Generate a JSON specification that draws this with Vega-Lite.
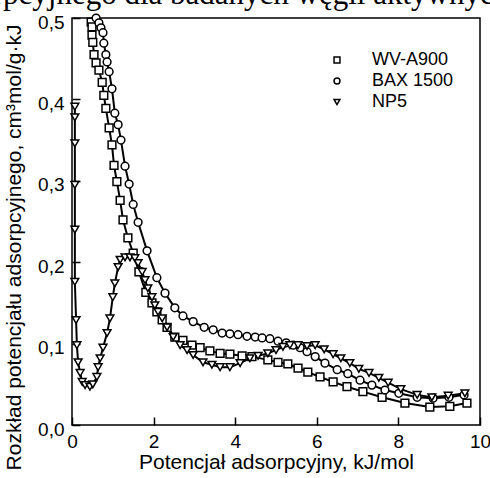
{
  "$schema": "https://vega.github.io/schema/vega-lite/v6.json",
  "width": 408,
  "height": 407,
  "autosize": {"type": "none"},
  "padding": {"left": 72, "top": 18, "right": 10, "bottom": 53},
  "background": "white",
  "title": {
    "text": "Rozkład potencjału adsorpcyjnego dla badanych węgli aktywnych",
    "anchor": "start",
    "frame": "group",
    "font": "Liberation Serif",
    "fontSize": 31,
    "fontWeight": "normal",
    "color": "black",
    "baseline": "alphabetic",
    "offset": 7,
    "dy": 31,
    "dx": -384
  },
  "config": {
    "view": {"stroke": "black", "strokeWidth": 1.5},
    "axis": {
      "labelFont": "Liberation Sans",
      "titleFont": "Liberation Sans",
      "labelColor": "black",
      "titleColor": "black",
      "labelFontSize": 19,
      "titleFontSize": 21,
      "titleFontWeight": "normal",
      "grid": false,
      "domain": false,
      "tickColor": "black",
      "tickWidth": 1.5
    }
  },
  "data": {
    "values": [
      {"s":"WV-A900","x":0.47,"y":0.495},{"s":"WV-A900","x":0.49,"y":0.489},{"s":"WV-A900","x":0.49,"y":0.479},{"s":"WV-A900","x":0.51,"y":0.470},{"s":"WV-A900","x":0.54,"y":0.455},{"s":"WV-A900","x":0.59,"y":0.445},{"s":"WV-A900","x":0.66,"y":0.436},{"s":"WV-A900","x":0.74,"y":0.421},{"s":"WV-A900","x":0.78,"y":0.405},{"s":"WV-A900","x":0.83,"y":0.389},{"s":"WV-A900","x":0.91,"y":0.365},{"s":"WV-A900","x":0.98,"y":0.344},{"s":"WV-A900","x":1.03,"y":0.319},{"s":"WV-A900","x":1.10,"y":0.299},{"s":"WV-A900","x":1.18,"y":0.276},{"s":"WV-A900","x":1.25,"y":0.252},{"s":"WV-A900","x":1.37,"y":0.230},{"s":"WV-A900","x":1.50,"y":0.211},{"s":"WV-A900","x":1.64,"y":0.188},{"s":"WV-A900","x":1.81,"y":0.163},{"s":"WV-A900","x":1.96,"y":0.150},{"s":"WV-A900","x":2.08,"y":0.139},{"s":"WV-A900","x":2.21,"y":0.129},{"s":"WV-A900","x":2.33,"y":0.120},{"s":"WV-A900","x":2.52,"y":0.108},{"s":"WV-A900","x":2.72,"y":0.104},{"s":"WV-A900","x":2.94,"y":0.098},{"s":"WV-A900","x":3.14,"y":0.095},{"s":"WV-A900","x":3.38,"y":0.091},{"s":"WV-A900","x":3.63,"y":0.088},{"s":"WV-A900","x":3.87,"y":0.087},{"s":"WV-A900","x":4.17,"y":0.085},{"s":"WV-A900","x":4.41,"y":0.084},{"s":"WV-A900","x":4.80,"y":0.080},{"s":"WV-A900","x":5.05,"y":0.077},{"s":"WV-A900","x":5.29,"y":0.075},{"s":"WV-A900","x":5.54,"y":0.070},{"s":"WV-A900","x":5.78,"y":0.065},{"s":"WV-A900","x":6.08,"y":0.059},{"s":"WV-A900","x":6.40,"y":0.053},{"s":"WV-A900","x":6.74,"y":0.047},{"s":"WV-A900","x":7.13,"y":0.041},{"s":"WV-A900","x":7.60,"y":0.034},{"s":"WV-A900","x":8.16,"y":0.027},{"s":"WV-A900","x":8.77,"y":0.022},{"s":"WV-A900","x":9.26,"y":0.023},{"s":"WV-A900","x":9.68,"y":0.027},
      {"s":"BAX 1500","x":0.59,"y":0.500},{"s":"BAX 1500","x":0.66,"y":0.494},{"s":"BAX 1500","x":0.71,"y":0.488},{"s":"BAX 1500","x":0.76,"y":0.482},{"s":"BAX 1500","x":0.78,"y":0.469},{"s":"BAX 1500","x":0.83,"y":0.455},{"s":"BAX 1500","x":0.86,"y":0.446},{"s":"BAX 1500","x":0.91,"y":0.434},{"s":"BAX 1500","x":0.98,"y":0.413},{"s":"BAX 1500","x":1.05,"y":0.383},{"s":"BAX 1500","x":1.13,"y":0.369},{"s":"BAX 1500","x":1.20,"y":0.350},{"s":"BAX 1500","x":1.30,"y":0.318},{"s":"BAX 1500","x":1.40,"y":0.296},{"s":"BAX 1500","x":1.50,"y":0.271},{"s":"BAX 1500","x":1.62,"y":0.249},{"s":"BAX 1500","x":1.84,"y":0.214},{"s":"BAX 1500","x":2.08,"y":0.181},{"s":"BAX 1500","x":2.28,"y":0.162},{"s":"BAX 1500","x":2.52,"y":0.144},{"s":"BAX 1500","x":2.72,"y":0.134},{"s":"BAX 1500","x":2.97,"y":0.127},{"s":"BAX 1500","x":3.24,"y":0.120},{"s":"BAX 1500","x":3.46,"y":0.117},{"s":"BAX 1500","x":3.68,"y":0.113},{"s":"BAX 1500","x":3.87,"y":0.112},{"s":"BAX 1500","x":4.07,"y":0.111},{"s":"BAX 1500","x":4.29,"y":0.109},{"s":"BAX 1500","x":4.49,"y":0.108},{"s":"BAX 1500","x":4.66,"y":0.107},{"s":"BAX 1500","x":4.85,"y":0.106},{"s":"BAX 1500","x":5.05,"y":0.103},{"s":"BAX 1500","x":5.25,"y":0.101},{"s":"BAX 1500","x":5.42,"y":0.098},{"s":"BAX 1500","x":5.59,"y":0.095},{"s":"BAX 1500","x":5.76,"y":0.090},{"s":"BAX 1500","x":5.96,"y":0.084},{"s":"BAX 1500","x":6.20,"y":0.076},{"s":"BAX 1500","x":6.50,"y":0.068},{"s":"BAX 1500","x":6.76,"y":0.063},{"s":"BAX 1500","x":7.06,"y":0.055},{"s":"BAX 1500","x":7.35,"y":0.049},{"s":"BAX 1500","x":7.67,"y":0.043},{"s":"BAX 1500","x":8.01,"y":0.039},{"s":"BAX 1500","x":8.46,"y":0.034},{"s":"BAX 1500","x":8.85,"y":0.033},{"s":"BAX 1500","x":9.24,"y":0.034},{"s":"BAX 1500","x":9.61,"y":0.037},
      {"s":"NP5","x":0.07,"y":0.391},{"s":"NP5","x":0.07,"y":0.378},{"s":"NP5","x":0.07,"y":0.346},{"s":"NP5","x":0.07,"y":0.295},{"s":"NP5","x":0.07,"y":0.240},{"s":"NP5","x":0.07,"y":0.176},{"s":"NP5","x":0.10,"y":0.129},{"s":"NP5","x":0.12,"y":0.098},{"s":"NP5","x":0.15,"y":0.077},{"s":"NP5","x":0.20,"y":0.064},{"s":"NP5","x":0.25,"y":0.053},{"s":"NP5","x":0.32,"y":0.049},{"s":"NP5","x":0.44,"y":0.047},{"s":"NP5","x":0.51,"y":0.050},{"s":"NP5","x":0.61,"y":0.059},{"s":"NP5","x":0.64,"y":0.071},{"s":"NP5","x":0.69,"y":0.082},{"s":"NP5","x":0.76,"y":0.095},{"s":"NP5","x":0.86,"y":0.113},{"s":"NP5","x":0.93,"y":0.131},{"s":"NP5","x":1.00,"y":0.157},{"s":"NP5","x":1.05,"y":0.174},{"s":"NP5","x":1.13,"y":0.194},{"s":"NP5","x":1.18,"y":0.203},{"s":"NP5","x":1.30,"y":0.206},{"s":"NP5","x":1.42,"y":0.206},{"s":"NP5","x":1.54,"y":0.205},{"s":"NP5","x":1.62,"y":0.199},{"s":"NP5","x":1.72,"y":0.188},{"s":"NP5","x":1.79,"y":0.178},{"s":"NP5","x":1.86,"y":0.168},{"s":"NP5","x":1.96,"y":0.157},{"s":"NP5","x":2.03,"y":0.147},{"s":"NP5","x":2.11,"y":0.139},{"s":"NP5","x":2.21,"y":0.131},{"s":"NP5","x":2.33,"y":0.120},{"s":"NP5","x":2.48,"y":0.108},{"s":"NP5","x":2.65,"y":0.098},{"s":"NP5","x":2.82,"y":0.092},{"s":"NP5","x":2.97,"y":0.086},{"s":"NP5","x":3.21,"y":0.077},{"s":"NP5","x":3.43,"y":0.074},{"s":"NP5","x":3.63,"y":0.071},{"s":"NP5","x":3.87,"y":0.071},{"s":"NP5","x":4.12,"y":0.076},{"s":"NP5","x":4.36,"y":0.082},{"s":"NP5","x":4.56,"y":0.085},{"s":"NP5","x":4.80,"y":0.088},{"s":"NP5","x":5.00,"y":0.092},{"s":"NP5","x":5.17,"y":0.096},{"s":"NP5","x":5.34,"y":0.098},{"s":"NP5","x":5.54,"y":0.098},{"s":"NP5","x":5.76,"y":0.097},{"s":"NP5","x":5.96,"y":0.098},{"s":"NP5","x":6.18,"y":0.093},{"s":"NP5","x":6.40,"y":0.087},{"s":"NP5","x":6.59,"y":0.082},{"s":"NP5","x":6.81,"y":0.076},{"s":"NP5","x":7.03,"y":0.069},{"s":"NP5","x":7.28,"y":0.064},{"s":"NP5","x":7.52,"y":0.058},{"s":"NP5","x":7.75,"y":0.052},{"s":"NP5","x":8.06,"y":0.044},{"s":"NP5","x":8.46,"y":0.037},{"s":"NP5","x":8.82,"y":0.034},{"s":"NP5","x":9.22,"y":0.036},{"s":"NP5","x":9.63,"y":0.039}
    ]
  },
  "encoding": {
    "x": {
      "field": "x", "type": "quantitative",
      "scale": {"domain": [0, 10], "nice": false, "zero": false},
      "axis": {
        "values": [0, 2, 4, 6, 8, 10],
        "title": "Potencjał adsorpcyjny, kJ/mol",
        "tickSize": -8,
        "labelPadding": 15,
        "titleY": 43,
        "titleBaseline": "alphabetic",
        "labelFlush": false
      }
    },
    "y": {
      "field": "y", "type": "quantitative",
      "scale": {"domain": [0, 0.5], "nice": false},
      "axis": {
        "values": [0, 0.1, 0.2, 0.3, 0.4, 0.5],
        "labelExpr": "replace(format(datum.value, '.1f'), '.', ',')",
        "title": "Rozkład potencjału adsorpcyjnego, cm³mol/g·kJ",
        "tickSize": -8,
        "labelPadding": 16,
        "labelOffset": 4,
        "labelFlush": false,
        "titleX": -52,
        "titleY": 229,
        "titleBaseline": "alphabetic"
      }
    }
  },
  "layer": [
    {
      "mark": {"type": "line", "color": "black", "strokeWidth": 2},
      "encoding": {"detail": {"field": "s"}}
    },
    {
      "mark": {"type": "point", "filled": true, "fill": "white", "stroke": "black", "strokeWidth": 1.5, "size": 60, "opacity": 1},
      "encoding": {
        "shape": {
          "field": "s", "type": "nominal",
          "scale": {"domain": ["WV-A900", "BAX 1500", "NP5"], "range": ["square", "circle", "triangle-down"]},
          "legend": {
            "title": null,
            "orient": "none",
            "legendX": 256,
            "legendY": 33,
            "padding": 0,
            "labelFont": "Liberation Sans",
            "labelFontSize": 18,
            "labelColor": "black",
            "labelOffset": 26,
            "rowPadding": 3,
            "symbolSize": 35,
            "encode": {
              "symbols": {
                "update": {
                  "fill": {"value": "white"},
                  "stroke": {"value": "black"},
                  "strokeWidth": {"value": 1.5},
                  "opacity": {"value": 1}
                }
              }
            }
          }
        }
      }
    }
  ]
}
